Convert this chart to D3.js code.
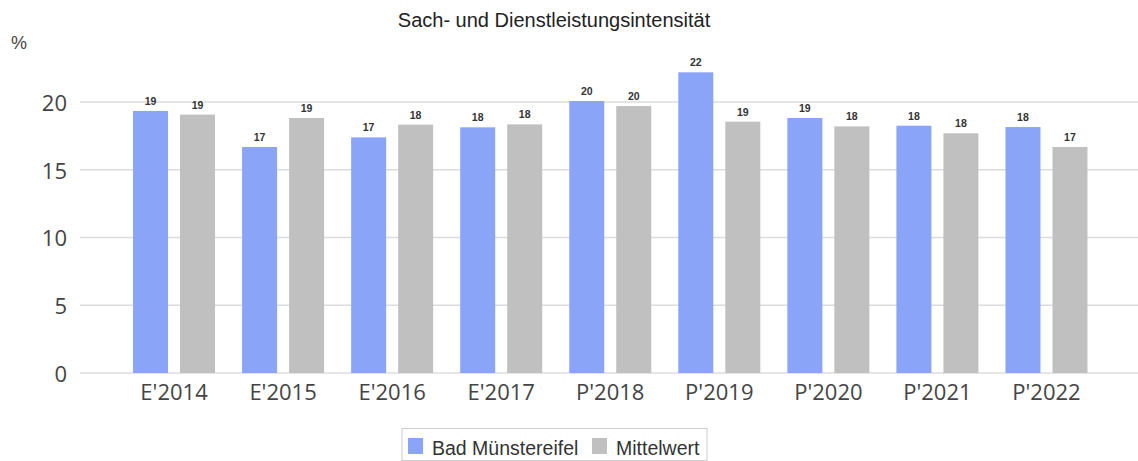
<!DOCTYPE html>
<html>
<head>
<meta charset="utf-8">
<script src="https://cdn.jsdelivr.net/npm/d3@7"></script>
<style>
  body { margin: 0; background: #fff; }
  svg { display: block; }
</style>
</head>
<body>
<div id="chart"></div>
<script>
// Categories and series values
const categories = ["E'2014", "E'2015", "E'2016", "E'2017", "P'2018", "P'2019", "P'2020", "P'2021", "P'2022"];
const seriesNames = ["Bad Münstereifel", "Mittelwert"];
const badMuenstereifel = [19.34, 16.68, 17.39, 18.13, 20.07, 22.19, 18.82, 18.25, 18.15];
const mittelwert = [19.07, 18.82, 18.33, 18.35, 19.7, 18.55, 18.2, 17.69, 16.68];
const yTicks = [0, 5, 10, 15, 20];
const colors = ["#8aa4f8", "#c0c0c0"];

const width = 1138;
const height = 461;

const svg = d3.select("#chart")
  .append("svg")
  .attr("width", width)
  .attr("height", height);

// Scales
const x0 = d3.scaleBand()
  .domain(categories)
  .range([119.5, 1101]);

const x1 = d3.scaleBand()
  .domain(seriesNames)
  .range([x0.bandwidth() / 2 - 41, x0.bandwidth() / 2 + 41])
  .paddingInner(12 / 47);

const y = d3.scaleLinear()
  .domain([0, 25])
  .range([373, 34.25]);

// Gridlines
svg.append("g")
  .selectAll("line")
  .data(yTicks)
  .join("line")
  .attr("x1", 80)
  .attr("x2", width)
  .attr("y1", d => y(d))
  .attr("y2", d => y(d))
  .attr("stroke", "#dcdcdc")
  .attr("stroke-width", 1.5);

// Y axis labels
const yAxis = svg.append("g")
  .attr("transform", "translate(80,0)")
  .call(d3.axisLeft(y).tickValues(yTicks).tickSize(0).tickPadding(13));
yAxis.select(".domain").remove();
yAxis.selectAll("text")
  .attr("font-family", "'Open Sans', sans-serif")
  .attr("font-size", 22)
  .attr("fill", "#444")
  .attr("dy", "0.38em");

// X axis labels
const xAxis = svg.append("g")
  .attr("transform", `translate(0,${y(0)})`)
  .call(d3.axisBottom(x0).tickSize(0).tickPadding(11));
xAxis.select(".domain").remove();
xAxis.selectAll("text")
  .attr("font-family", "'Open Sans', sans-serif")
  .attr("font-size", 22)
  .attr("fill", "#444");

// Bars
const rows = categories.map((c, i) => ({
  cat: c,
  values: [badMuenstereifel[i], mittelwert[i]]
}));

const groups = svg.append("g")
  .selectAll("g")
  .data(rows)
  .join("g")
  .attr("transform", d => `translate(${x0(d.cat)},0)`);

groups.selectAll("rect")
  .data(d => d.values.map((v, k) => ({ name: seriesNames[k], value: v, k })))
  .join("rect")
  .attr("x", d => x1(d.name))
  .attr("width", x1.bandwidth())
  .attr("y", d => y(d.value))
  .attr("height", d => y(0) - y(d.value))
  .attr("fill", d => colors[d.k]);

groups.selectAll("text")
  .data(d => d.values.map((v, k) => ({ name: seriesNames[k], value: v })))
  .join("text")
  .attr("x", d => x1(d.name) + x1.bandwidth() / 2)
  .attr("y", d => y(d.value) - 6)
  .attr("text-anchor", "middle")
  .attr("font-family", "'Liberation Sans', Arial, sans-serif")
  .attr("font-size", 10.5)
  .attr("font-weight", "bold")
  .attr("fill", "#333")
  .text(d => Math.round(d.value));

// Title
svg.append("text")
  .attr("x", 554)
  .attr("y", 27)
  .attr("text-anchor", "middle")
  .attr("font-family", "'Liberation Sans', Arial, sans-serif")
  .attr("font-size", 20)
  .attr("fill", "#222")
  .text("Sach- und Dienstleistungsintensität");

// Unit label
svg.append("text")
  .attr("x", 11)
  .attr("y", 49)
  .attr("font-family", "'Liberation Sans', Arial, sans-serif")
  .attr("font-size", 18)
  .attr("fill", "#444")
  .text("%");

// Legend
const legend = svg.append("g");
legend.append("rect")
  .attr("x", 402)
  .attr("y", 428.5)
  .attr("width", 305)
  .attr("height", 32)
  .attr("fill", "#fff")
  .attr("stroke", "#ccc");

const legendX = [408, 592];
seriesNames.forEach((name, i) => {
  legend.append("rect")
    .attr("x", legendX[i])
    .attr("y", 438)
    .attr("width", 15)
    .attr("height", 16)
    .attr("fill", colors[i]);
  legend.append("text")
    .attr("x", legendX[i] + 24)
    .attr("y", 455)
    .attr("font-family", "'Liberation Sans', Arial, sans-serif")
    .attr("font-size", 19.5)
    .attr("fill", "#333")
    .text(name);
});
</script>
</body>
</html>
